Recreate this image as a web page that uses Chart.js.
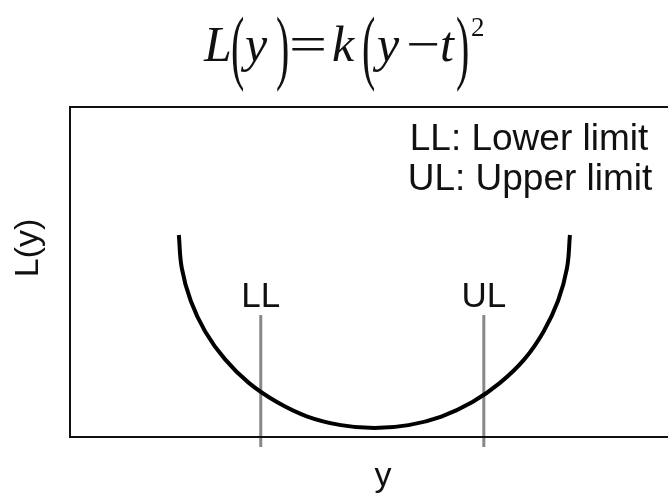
<!DOCTYPE html>
<html>
<head>
<meta charset="utf-8">
<script src="https://cdn.jsdelivr.net/npm/chart.js@4"></script>
<style>
  html, body { margin: 0; padding: 0; background: #fff; }
  #wrap { width: 668px; height: 494px; }
</style>
</head>
<body>
<div id="wrap"><canvas id="chart" width="668" height="494"></canvas></div>
<script>
// curve (x: 0..100 across the box, y: 0..100 up the box)
const curveX = [18.2, 18.7, 20.2, 22.6, 25.9, 29.9, 34.6, 39.7, 45.3, 50.9, 56.6, 62.1, 67.3, 71.9, 76.0, 79.2, 81.6, 83.1, 83.6];
const curveY = [61.2, 51.1, 41.2, 32.0, 23.6, 16.4, 10.6, 6.2, 3.6, 2.7, 3.6, 6.2, 10.6, 16.4, 23.6, 32.0, 41.2, 51.1, 61.2];

const limitNames = ["LL", "UL"];
const limitX = [31.9, 69.2];
const limitTop = 37.0;
const limitBottom = -3.0;
const limitLabelY = 39.4;

const legendLines = ["LL: Lower limit", "UL: Upper limit"];
const xTitle = "y";
const yTitle = "L(y)";

const sans = '"Liberation Sans", Arial, sans-serif';
const serif = '"Liberation Serif", "Times New Roman", serif';

const curve = curveX.map((x, i) => ({ x, y: curveY[i] }));

const limitSets = limitX.map((x) => ({
    data: [{ x, y: limitTop }, { x, y: limitBottom }],
    showLine: true,
    borderColor: "#888888",
    borderWidth: 3,
    pointRadius: 0,
    clip: false
}));

const decor = {
    id: "decor",
    afterDatasetsDraw(chart) {
        const { ctx, chartArea: a, scales } = chart;
        ctx.save();

        // frame (right side runs off the canvas, as in the original)
        ctx.strokeStyle = "#111";
        ctx.lineWidth = 2;
        ctx.strokeRect(a.left, a.top, a.right - a.left + 20, a.bottom - a.top);

        ctx.fillStyle = "#111";
        ctx.textAlign = "center";
        ctx.textBaseline = "alphabetic";

        // LL / UL tags
        ctx.font = "35px " + sans;
        limitNames.forEach((n, i) => {
            ctx.fillText(n, scales.x.getPixelForValue(limitX[i]), scales.y.getPixelForValue(limitLabelY));
        });

        // notes top right
        ctx.font = "37px " + sans;
        ctx.fillText(legendLines[0], 529, 150);
        ctx.fillText(legendLines[1], 530, 190);

        // axis titles
        ctx.font = "34px " + sans;
        ctx.fillText(xTitle, 383, 486);
        ctx.save();
        ctx.translate(38, 248);
        ctx.rotate(-Math.PI / 2);
        ctx.fillText(yTitle, 0, 0);
        ctx.restore();

        // formula
        const base = 61;
        const it = "italic 50px " + serif;
        const rm = "50px " + serif;
        const put = (t, x, f, sx) => {
            ctx.save();
            ctx.font = f;
            ctx.textAlign = "left";
            ctx.translate(x, base);
            ctx.scale(sx || 1, 1);
            ctx.fillText(t, 0, 0);
            ctx.restore();
        };
        const paren = (t, x) => {
            ctx.save();
            ctx.font = "40px " + serif;
            ctx.textAlign = "left";
            ctx.textBaseline = "middle";
            ctx.translate(x, 52);
            ctx.scale(1, 2.05);
            ctx.fillText(t, 0, 0);
            ctx.restore();
        };
        put("L", 204, it);
        paren("(", 231);
        put("y", 245, it);
        paren(")", 276);
        put("=", 289, rm, 1.35);
        put("k", 332, it);
        paren("(", 362);
        put("y", 377, it);
        put("\u2212", 406, rm, 1.2);
        put("t", 440, it);
        paren(")", 456);
        ctx.font = "27px " + serif;
        ctx.textAlign = "left";
        ctx.fillText("2", 471, 36);

        ctx.restore();
    }
};

new Chart(document.getElementById("chart"), {
    type: "scatter",
    data: {
        datasets: [
            {
                data: curve,
                showLine: true,
                borderColor: "#000",
                borderWidth: 4,
                pointRadius: 0,
                tension: 0.4
            },
            ...limitSets
        ]
    },
    options: {
        responsive: false,
        animation: false,
        layout: { padding: { left: 70, top: 107, right: 0, bottom: 57 } },
        scales: {
            x: { type: "linear", min: 0, max: 100, display: false },
            y: { type: "linear", min: 0, max: 100, display: false }
        },
        plugins: {
            legend: { display: false },
            tooltip: { enabled: false }
        }
    },
    plugins: [decor]
});
</script>
</body>
</html>
